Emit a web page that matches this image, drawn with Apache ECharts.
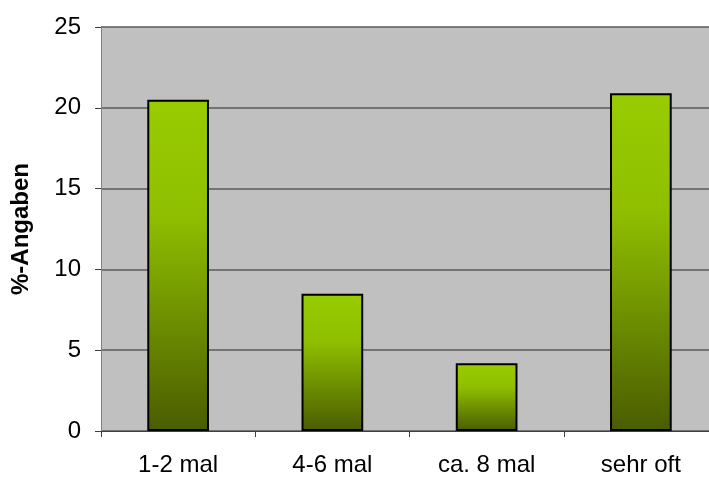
<!DOCTYPE html>
<html><head><meta charset="utf-8">
<script src="https://cdn.jsdelivr.net/npm/echarts@6/dist/echarts.min.js"></script>
<style>html,body{margin:0;padding:0;background:#fff;overflow:hidden;width:709px;height:477px}#c{width:718px;height:477px}</style>
</head><body><div id="c"></div>
<script>
const categories = ['1-2 mal', '4-6 mal', 'ca. 8 mal', 'sehr oft'];
const values = [20.5, 8.5, 4.2, 20.9];
const yTicks = [0, 5, 10, 15, 20, 25];
const yTitle = '%-Angaben';

const chart = echarts.init(document.getElementById('c'), null, {renderer: 'canvas'});
chart.setOption({
  animation: false,
  grid: {left: 101, right: 0, top: 27, bottom: 45, show: true, backgroundColor: '#C0C0C0', borderWidth: 0},
  xAxis: {
    type: 'category', data: categories,
    axisLine: {lineStyle: {color: '#404040', width: 1}},
    axisTick: {show: true, length: 6, alignWithLabel: false, lineStyle: {color: '#404040'}},
    axisLabel: {color: '#000', fontFamily: 'Liberation Sans, Arial', fontSize: 24, margin: 22}
  },
  yAxis: {
    type: 'value', min: 0, max: 25, interval: 5,
    name: yTitle, nameLocation: 'middle', nameGap: 68,
    nameTextStyle: {color: '#000', fontFamily: 'Liberation Sans, Arial', fontSize: 24, fontWeight: 'bold'},
    axisLine: {show: true, lineStyle: {color: '#808080'}},
    axisTick: {show: true, length: 6, lineStyle: {color: '#404040'}},
    axisLabel: {color: '#000', fontFamily: 'Liberation Sans, Arial', fontSize: 24, margin: 20,
      formatter: v => yTicks.includes(v) ? String(v) : ''},
    splitLine: {show: true, lineStyle: {color: '#5a5a5a', width: 1.5}}
  },
  series: [{
    type: 'bar', data: values, barWidth: '40%',
    itemStyle: {
      borderColor: '#000', borderWidth: 2,
      color: new echarts.graphic.LinearGradient(0, 0, 0, 1, [
        {offset: 0, color: '#99CC00'},
        {offset: 0.35, color: '#8FBF00'},
        {offset: 1, color: '#4A5C00'}
      ])
    }
  }]
});
</script></body></html>
